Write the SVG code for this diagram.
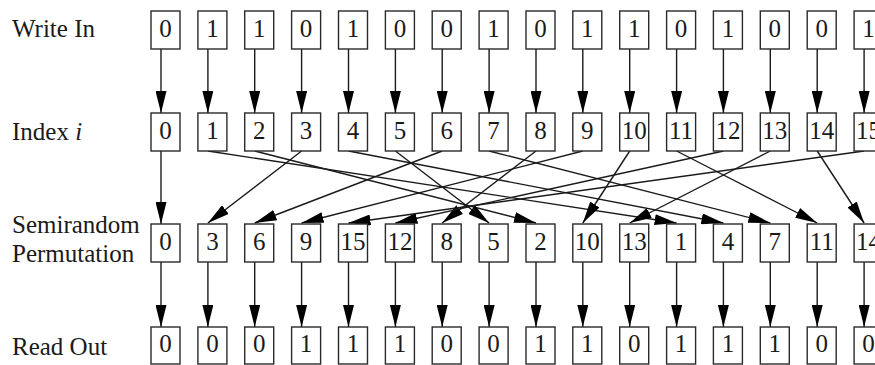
<svg xmlns="http://www.w3.org/2000/svg" width="875" height="365" viewBox="0 0 875 365">
<defs>
<marker id="ah" markerUnits="userSpaceOnUse" markerWidth="22" markerHeight="11" refX="22" refY="5.5" orient="auto" viewBox="0 0 22 11">
<path d="M0,0 L22,5.5 L0,11 Z" fill="#000"/>
</marker>
<style>
.box{fill:#fff;stroke:#2a2a2a;stroke-width:1.4}
.num{font-family:"Liberation Serif",serif;font-size:25px;fill:#1a1a1a;text-anchor:middle}
.lbl{font-family:"Liberation Serif",serif;font-size:25px;fill:#1a1a1a}
.con line{stroke:#1a1a1a;stroke-width:1.4;marker-end:url(#ah)}
</style>
</defs>
<rect width="875" height="365" fill="#fff"/>
<g id="labels">
<text class="lbl" x="12" y="37">Write In</text>
<text class="lbl" x="12" y="140">Index <tspan font-style="italic">i</tspan></text>
<text class="lbl" x="12" y="233">Semirandom</text>
<text class="lbl" x="12" y="262">Permutation</text>
<text class="lbl" x="12" y="355">Read Out</text>
</g>
<g id="connectors" class="con">
<line x1="161" y1="49" x2="161" y2="113"/>
<line x1="207.9" y1="49" x2="207.9" y2="113"/>
<line x1="254.7" y1="49" x2="254.7" y2="113"/>
<line x1="301.6" y1="49" x2="301.6" y2="113"/>
<line x1="348.5" y1="49" x2="348.5" y2="113"/>
<line x1="395.4" y1="49" x2="395.4" y2="113"/>
<line x1="442.2" y1="49" x2="442.2" y2="113"/>
<line x1="489.1" y1="49" x2="489.1" y2="113"/>
<line x1="536" y1="49" x2="536" y2="113"/>
<line x1="582.8" y1="49" x2="582.8" y2="113"/>
<line x1="629.7" y1="49" x2="629.7" y2="113"/>
<line x1="676.6" y1="49" x2="676.6" y2="113"/>
<line x1="723.4" y1="49" x2="723.4" y2="113"/>
<line x1="770.3" y1="49" x2="770.3" y2="113"/>
<line x1="817.2" y1="49" x2="817.2" y2="113"/>
<line x1="864.1" y1="49" x2="864.1" y2="113"/>
<line x1="161" y1="151" x2="161" y2="224"/>
<line x1="207.9" y1="151" x2="676.6" y2="223"/>
<line x1="254.7" y1="151" x2="536" y2="223"/>
<line x1="301.6" y1="151" x2="207.9" y2="223"/>
<line x1="348.5" y1="151" x2="723.4" y2="223"/>
<line x1="395.4" y1="151" x2="489.1" y2="223"/>
<line x1="442.2" y1="151" x2="254.7" y2="223"/>
<line x1="489.1" y1="151" x2="770.3" y2="223"/>
<line x1="536" y1="151" x2="442.2" y2="223"/>
<line x1="582.8" y1="151" x2="301.6" y2="223"/>
<line x1="629.7" y1="151" x2="582.8" y2="223"/>
<line x1="676.6" y1="151" x2="817.2" y2="223"/>
<line x1="723.4" y1="151" x2="395.4" y2="223"/>
<line x1="770.3" y1="151" x2="629.7" y2="223"/>
<line x1="817.2" y1="151" x2="864.1" y2="223"/>
<line x1="864.1" y1="151" x2="348.5" y2="223"/>
<line x1="161" y1="262" x2="161" y2="327"/>
<line x1="207.9" y1="262" x2="207.9" y2="327"/>
<line x1="254.7" y1="262" x2="254.7" y2="327"/>
<line x1="301.6" y1="262" x2="301.6" y2="327"/>
<line x1="348.5" y1="262" x2="348.5" y2="327"/>
<line x1="395.4" y1="262" x2="395.4" y2="327"/>
<line x1="442.2" y1="262" x2="442.2" y2="327"/>
<line x1="489.1" y1="262" x2="489.1" y2="327"/>
<line x1="536" y1="262" x2="536" y2="327"/>
<line x1="582.8" y1="262" x2="582.8" y2="327"/>
<line x1="629.7" y1="262" x2="629.7" y2="327"/>
<line x1="676.6" y1="262" x2="676.6" y2="327"/>
<line x1="723.4" y1="262" x2="723.4" y2="327"/>
<line x1="770.3" y1="262" x2="770.3" y2="327"/>
<line x1="817.2" y1="262" x2="817.2" y2="327"/>
<line x1="864.1" y1="262" x2="864.1" y2="327"/>
</g>
<g id="row-write">
<g id="w0"><rect class="box" x="151" y="11" width="29" height="38"/><text class="num" x="165.5" y="37">0</text></g>
<g id="w1"><rect class="box" x="197.9" y="11" width="29" height="38"/><text class="num" x="212.4" y="37">1</text></g>
<g id="w2"><rect class="box" x="244.7" y="11" width="29" height="38"/><text class="num" x="259.2" y="37">1</text></g>
<g id="w3"><rect class="box" x="291.6" y="11" width="29" height="38"/><text class="num" x="306.1" y="37">0</text></g>
<g id="w4"><rect class="box" x="338.5" y="11" width="29" height="38"/><text class="num" x="353" y="37">1</text></g>
<g id="w5"><rect class="box" x="385.4" y="11" width="29" height="38"/><text class="num" x="399.9" y="37">0</text></g>
<g id="w6"><rect class="box" x="432.2" y="11" width="29" height="38"/><text class="num" x="446.7" y="37">0</text></g>
<g id="w7"><rect class="box" x="479.1" y="11" width="29" height="38"/><text class="num" x="493.6" y="37">1</text></g>
<g id="w8"><rect class="box" x="526" y="11" width="29" height="38"/><text class="num" x="540.5" y="37">0</text></g>
<g id="w9"><rect class="box" x="572.8" y="11" width="29" height="38"/><text class="num" x="587.3" y="37">1</text></g>
<g id="w10"><rect class="box" x="619.7" y="11" width="29" height="38"/><text class="num" x="634.2" y="37">1</text></g>
<g id="w11"><rect class="box" x="666.6" y="11" width="29" height="38"/><text class="num" x="681.1" y="37">0</text></g>
<g id="w12"><rect class="box" x="713.4" y="11" width="29" height="38"/><text class="num" x="727.9" y="37">1</text></g>
<g id="w13"><rect class="box" x="760.3" y="11" width="29" height="38"/><text class="num" x="774.8" y="37">0</text></g>
<g id="w14"><rect class="box" x="807.2" y="11" width="29" height="38"/><text class="num" x="821.7" y="37">0</text></g>
<g id="w15"><rect class="box" x="854.1" y="11" width="29" height="38"/><text class="num" x="868.6" y="37">1</text></g>
</g>
<g id="row-index">
<g id="i0"><rect class="box" x="151" y="113" width="29" height="38"/><text class="num" x="165.5" y="139">0</text></g>
<g id="i1"><rect class="box" x="197.9" y="113" width="29" height="38"/><text class="num" x="212.4" y="139">1</text></g>
<g id="i2"><rect class="box" x="244.7" y="113" width="29" height="38"/><text class="num" x="259.2" y="139">2</text></g>
<g id="i3"><rect class="box" x="291.6" y="113" width="29" height="38"/><text class="num" x="306.1" y="139">3</text></g>
<g id="i4"><rect class="box" x="338.5" y="113" width="29" height="38"/><text class="num" x="353" y="139">4</text></g>
<g id="i5"><rect class="box" x="385.4" y="113" width="29" height="38"/><text class="num" x="399.9" y="139">5</text></g>
<g id="i6"><rect class="box" x="432.2" y="113" width="29" height="38"/><text class="num" x="446.7" y="139">6</text></g>
<g id="i7"><rect class="box" x="479.1" y="113" width="29" height="38"/><text class="num" x="493.6" y="139">7</text></g>
<g id="i8"><rect class="box" x="526" y="113" width="29" height="38"/><text class="num" x="540.5" y="139">8</text></g>
<g id="i9"><rect class="box" x="572.8" y="113" width="29" height="38"/><text class="num" x="587.3" y="139">9</text></g>
<g id="i10"><rect class="box" x="619.7" y="113" width="29" height="38"/><text class="num" x="634.2" y="139">10</text></g>
<g id="i11"><rect class="box" x="666.6" y="113" width="29" height="38"/><text class="num" x="681.1" y="139">11</text></g>
<g id="i12"><rect class="box" x="713.4" y="113" width="29" height="38"/><text class="num" x="727.9" y="139">12</text></g>
<g id="i13"><rect class="box" x="760.3" y="113" width="29" height="38"/><text class="num" x="774.8" y="139">13</text></g>
<g id="i14"><rect class="box" x="807.2" y="113" width="29" height="38"/><text class="num" x="821.7" y="139">14</text></g>
<g id="i15"><rect class="box" x="854.1" y="113" width="29" height="38"/><text class="num" x="868.6" y="139">15</text></g>
</g>
<g id="row-perm">
<g id="p0"><rect class="box" x="151" y="224" width="29" height="38"/><text class="num" x="165.5" y="250">0</text></g>
<g id="p1"><rect class="box" x="197.9" y="224" width="29" height="38"/><text class="num" x="212.4" y="250">3</text></g>
<g id="p2"><rect class="box" x="244.7" y="224" width="29" height="38"/><text class="num" x="259.2" y="250">6</text></g>
<g id="p3"><rect class="box" x="291.6" y="224" width="29" height="38"/><text class="num" x="306.1" y="250">9</text></g>
<g id="p4"><rect class="box" x="338.5" y="224" width="29" height="38"/><text class="num" x="353" y="250">15</text></g>
<g id="p5"><rect class="box" x="385.4" y="224" width="29" height="38"/><text class="num" x="399.9" y="250">12</text></g>
<g id="p6"><rect class="box" x="432.2" y="224" width="29" height="38"/><text class="num" x="446.7" y="250">8</text></g>
<g id="p7"><rect class="box" x="479.1" y="224" width="29" height="38"/><text class="num" x="493.6" y="250">5</text></g>
<g id="p8"><rect class="box" x="526" y="224" width="29" height="38"/><text class="num" x="540.5" y="250">2</text></g>
<g id="p9"><rect class="box" x="572.8" y="224" width="29" height="38"/><text class="num" x="587.3" y="250">10</text></g>
<g id="p10"><rect class="box" x="619.7" y="224" width="29" height="38"/><text class="num" x="634.2" y="250">13</text></g>
<g id="p11"><rect class="box" x="666.6" y="224" width="29" height="38"/><text class="num" x="681.1" y="250">1</text></g>
<g id="p12"><rect class="box" x="713.4" y="224" width="29" height="38"/><text class="num" x="727.9" y="250">4</text></g>
<g id="p13"><rect class="box" x="760.3" y="224" width="29" height="38"/><text class="num" x="774.8" y="250">7</text></g>
<g id="p14"><rect class="box" x="807.2" y="224" width="29" height="38"/><text class="num" x="821.7" y="250">11</text></g>
<g id="p15"><rect class="box" x="854.1" y="224" width="29" height="38"/><text class="num" x="868.6" y="250">14</text></g>
</g>
<g id="row-read">
<g id="r0"><rect class="box" x="151" y="327" width="29" height="37"/><text class="num" x="165.5" y="352">0</text></g>
<g id="r1"><rect class="box" x="197.9" y="327" width="29" height="37"/><text class="num" x="212.4" y="352">0</text></g>
<g id="r2"><rect class="box" x="244.7" y="327" width="29" height="37"/><text class="num" x="259.2" y="352">0</text></g>
<g id="r3"><rect class="box" x="291.6" y="327" width="29" height="37"/><text class="num" x="306.1" y="352">1</text></g>
<g id="r4"><rect class="box" x="338.5" y="327" width="29" height="37"/><text class="num" x="353" y="352">1</text></g>
<g id="r5"><rect class="box" x="385.4" y="327" width="29" height="37"/><text class="num" x="399.9" y="352">1</text></g>
<g id="r6"><rect class="box" x="432.2" y="327" width="29" height="37"/><text class="num" x="446.7" y="352">0</text></g>
<g id="r7"><rect class="box" x="479.1" y="327" width="29" height="37"/><text class="num" x="493.6" y="352">0</text></g>
<g id="r8"><rect class="box" x="526" y="327" width="29" height="37"/><text class="num" x="540.5" y="352">1</text></g>
<g id="r9"><rect class="box" x="572.8" y="327" width="29" height="37"/><text class="num" x="587.3" y="352">1</text></g>
<g id="r10"><rect class="box" x="619.7" y="327" width="29" height="37"/><text class="num" x="634.2" y="352">0</text></g>
<g id="r11"><rect class="box" x="666.6" y="327" width="29" height="37"/><text class="num" x="681.1" y="352">1</text></g>
<g id="r12"><rect class="box" x="713.4" y="327" width="29" height="37"/><text class="num" x="727.9" y="352">1</text></g>
<g id="r13"><rect class="box" x="760.3" y="327" width="29" height="37"/><text class="num" x="774.8" y="352">1</text></g>
<g id="r14"><rect class="box" x="807.2" y="327" width="29" height="37"/><text class="num" x="821.7" y="352">0</text></g>
<g id="r15"><rect class="box" x="854.1" y="327" width="29" height="37"/><text class="num" x="868.6" y="352">0</text></g>
</g>
</svg>
